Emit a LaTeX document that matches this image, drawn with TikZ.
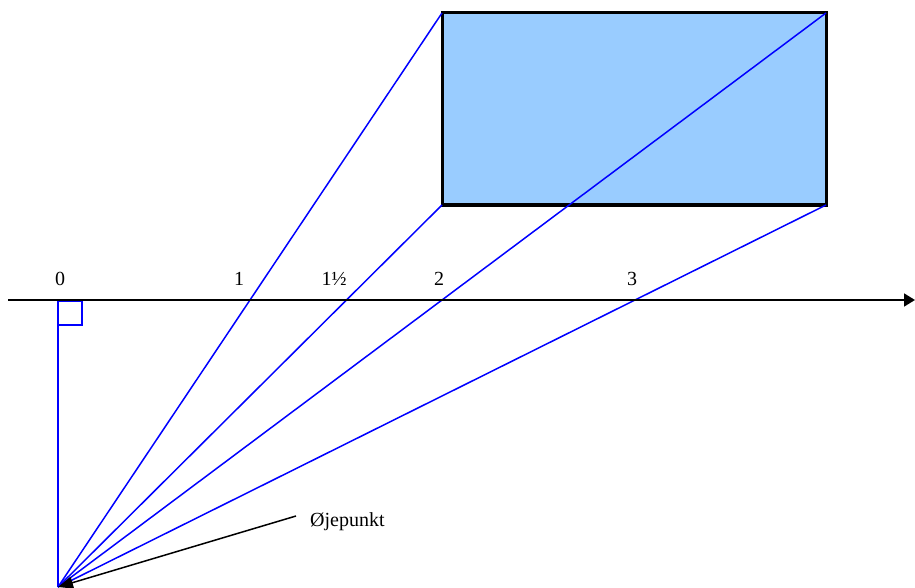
\documentclass[tikz,border=0pt]{standalone}
\usepackage{fontspec}
\setmainfont{Liberation Serif}
\usetikzlibrary{arrows.meta}
\definecolor{rectfill}{HTML}{99CCFF}
\tikzset{
  sight/.style={draw=blue, line width=1.5pt},
  axisline/.style={draw=black, line width=1.8pt, -{Triangle[length=11pt,width=13pt]}},
  tick/.style={font=\fontsize{20}{22}\selectfont, anchor=base, inner sep=0pt},
  pointer/.style={draw=black, line width=1.5pt, -{Triangle[length=15pt,width=12pt]}},
  frame/.style={draw=black, line width=3pt, fill=rectfill},
}
\begin{document}
\begin{tikzpicture}[x=1pt,y=-1pt]
\useasboundingbox (0,0) rectangle (915,588);
% coordinates
\coordinate (E) at (58,587);
\coordinate (TL) at (442,13);
\coordinate (TR) at (826,13);
\coordinate (BL) at (442,205);
\coordinate (BR) at (826,205);
\coordinate (AS) at (8,300);
\coordinate (AE) at (915,300);
\coordinate (F) at (58,300);
\coordinate (P) at (296,516);
% rectangle
\draw[frame] (TL) rectangle (BR);
% sight lines
\draw[sight] (E) -- (TL);
\draw[sight] (E) -- (BL);
\draw[sight] (E) -- (TR);
\draw[sight] (E) -- (BR);
\draw[sight] (E) -- (F);
\draw[sight] (58,301) rectangle (82,325);
% axis
\draw[axisline] (AS) -- (AE);
% labels
\node[tick] (l0) at (60,285) {0};
\node[tick] (l1) at (239,285) {1};
\node[tick] (l15) at (334,285) {1½};
\node[tick] (l2) at (439,285) {2};
\node[tick] (l3) at (632,285) {3};
% pointer
\node[tick, anchor=base west] (lab) at (310,526) {Øjepunkt};
\draw[pointer] (P) -- (E);
\end{tikzpicture}
\end{document}
